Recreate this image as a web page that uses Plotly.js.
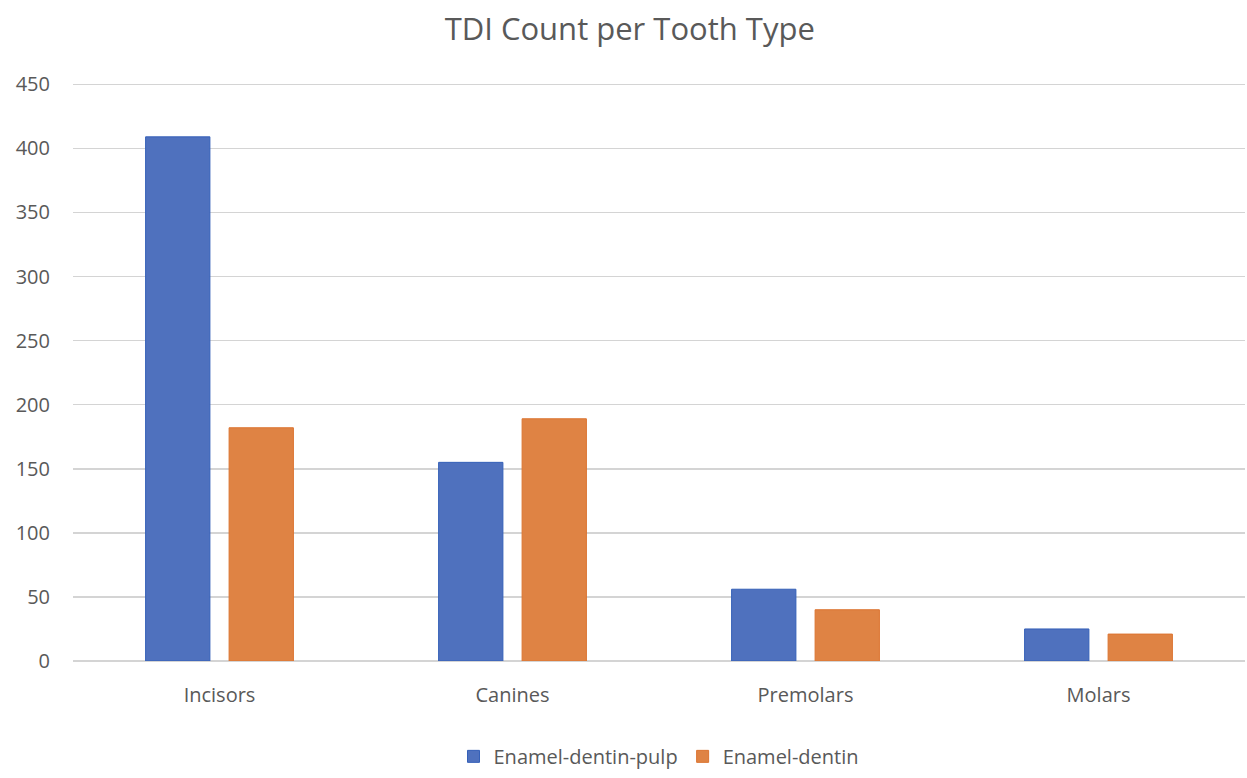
<!DOCTYPE html>
<html>
<head>
<meta charset="utf-8">
<script src="https://cdn.plot.ly/plotly-3.0.1.min.js"></script>
<style>
  html, body { margin: 0; padding: 0; background: #fff; }
  #chart { width: 1247px; height: 778px; }
</style>
</head>
<body>
<div id="chart"></div>
<script>
// tooth types along the x axis
var toothTypes = ['Incisors', 'Canines', 'Premolars', 'Molars'];

// TDI counts per series
var enamelDentinPulp = [409, 155, 56, 25];
var enamelDentin = [182, 189, 40, 21];

var yTicks = [0, 50, 100, 150, 200, 250, 300, 350, 400, 450];

var fontFamily = '"Open Sans", "Noto Sans", sans-serif';
var textGrey = '#595959';

var traces = [
    {
        type: 'bar',
        name: 'Enamel-dentin-pulp',
        x: toothTypes,
        y: enamelDentinPulp,
        marker: { color: '#4f71be', line: { color: '#3560b8', width: 1 } }
    },
    {
        type: 'bar',
        name: 'Enamel-dentin',
        x: toothTypes,
        y: enamelDentin,
        marker: { color: '#df8344', line: { color: '#dc7431', width: 1 } }
    }
];

var layout = {
    width: 1247,
    height: 778,
    paper_bgcolor: '#ffffff',
    plot_bgcolor: '#ffffff',
    margin: { l: 73, r: 2, t: 83, b: 114 },
    barmode: 'group',
    bargap: 0.43,
    bargroupgap: 0.23,
    title: {
        text: 'TDI Count per Tooth Type',
        font: { family: fontFamily, size: 31, color: textGrey },
        x: 0.505,
        xanchor: 'center',
        y: 0.962,
        yanchor: 'middle'
    },
    xaxis: {
        tickfont: { family: fontFamily, size: 20, color: textGrey },
        showgrid: false,
        showline: false,
        ticks: '',
        ticklen: 0,
        zeroline: false,
        ticklabelstandoff: 20
    },
    yaxis: {
        range: [0, 451],
        tickvals: yTicks,
        ticktext: yTicks.map(String),
        tickfont: { family: fontFamily, size: 20, color: textGrey },
        showgrid: true,
        gridcolor: '#d4d4d4',
        gridwidth: 1.5,
        zeroline: true,
        zerolinecolor: '#d4d4d4',
        zerolinewidth: 1.5,
        showline: false,
        ticks: '',
        ticklabelstandoff: 22
    },
    showlegend: true,
    legend: {
        orientation: 'h',
        x: 0.5,
        xanchor: 'center',
        y: -0.165,
        yanchor: 'middle',
        font: { family: fontFamily, size: 20, color: textGrey },
        itemwidth: 30,
        traceorder: 'normal'
    }
};

Plotly.newPlot('chart', traces, layout, { displayModeBar: false, staticPlot: true });
</script>
</body>
</html>
